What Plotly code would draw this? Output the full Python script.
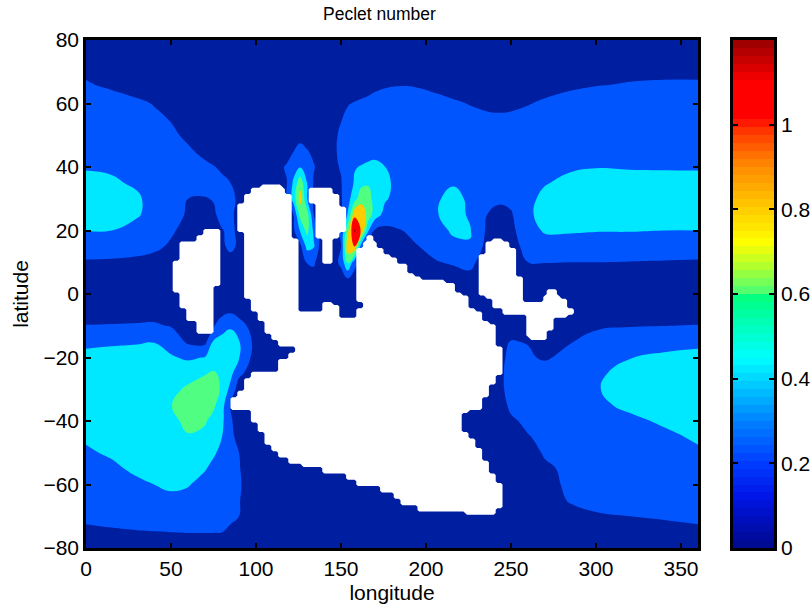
import numpy as np
import plotly.graph_objects as go

lons = [0,15,30,40,50,60, 70,75,80,85,90,100, 110,118,122,126,130,134,138,
        145,150,154,158,162,166,170,176, 184,195,206,216,226,236,243,
        250,260,270,285,300,320,340,360]
lats = [80,72,66,60,50,45,40,35,30,25,20,15,10,5,0,-5,-10,-15,-20,-25,-30,-35,
        -40,-45,-50,-55,-60,-65,-70,-75,-80]

peclet = [
 [.08,.08,.07,.07,.07,.07, .06,.06,.06,.06,.06,.06, .06,.06,.06,.06,.06,.06,.06, .06,.06,.06,.06,.07,.07,.07,.07, .07,.07,.07,.07,.07,.07,.07, .07,.07,.07,.07,.07,.08,.08,.08],
 [.17,.15,.12,.11,.10,.09, .08,.08,.07,.07,.07,.07, .07,.07,.07,.07,.07,.07,.07, .09,.10,.11,.12,.13,.13,.14,.14, .14,.14,.13,.13,.12,.12,.12, .12,.13,.14,.15,.16,.17,.17,.17],
 [.21,.18,.15,.13,.11,.10, .09,.09,.08,.08,.08,.08, .08,.08,.08,.08,.08,.08,.09, .10,.12,.14,.15,.17,.17,.18,.19, .195,.19,.17,.15,.14,.13,.13, .13,.14,.16,.18,.195,.205,.21,.21],
 [.27,.25,.22,.195,.17,.15, .12,.11,.10,.09,.09,.09, .09,.09,.09,.09,.09,.09,.10, .13,.17,.195,.205,.21,.22,.23,.24, .25,.25,.235,.215,.195,.18,.175, .18,.195,.215,.24,.25,.27,.27,.27],
 [.33,.32,.28,.25,.22,.18, .15,.135,.12,.11,.10,.09, .09,.10,.12,.14,.13,.12,.12, .17,.22,.25,.27,.28,.29,.30,.305, .31,.31,.30,.29,.27,.26,.26, .26,.27,.29,.31,.32,.33,.33,.33],
 [.37,.36,.32,.28,.25,.215, .175,.155,.14,.12,.11,.09, .09,.12,.195,.26,.21,.17,.14, .17,.23,.28,.31,.33,.34,.35,.35, .35,.35,.34,.33,.31,.30,.30, .30,.31,.33,.34,.36,.37,.37,.37],
 [.39,.38,.34,.31,.28,.25, .22,.205,.185,.16,.14,.11, .11,.22,.32,.39,.33,.21,.15, .17,.21,.31,.39,.41,.43,.44,.40, .35,.34,.36,.35,.34,.32,.32, .32,.33,.36,.38,.395,.39,.39,.39],
 [.435,.42,.38,.33,.30,.25, .235,.23,.22,.20,.17,.12, .12,.19,.43,.73,.40,.18,.12, .15,.19,.30,.42,.55,.58,.52,.45, .33,.33,.37,.385,.36,.30,.27, .28,.33,.39,.44,.46,.45,.44,.435],
 [.47,.46,.42,.35,.27,.20, .195,.205,.23,.22,.185,.13, .12,.19,.48,.88,.41,.17,.12, .14,.18,.33,.53,.72,.68,.52,.42, .33,.34,.38,.45,.37,.26,.23, .25,.36,.44,.49,.50,.49,.48,.47],
 [.47,.46,.42,.33,.25,.185, .16,.185,.23,.21,.185,.13, .11,.12,.20,.66,.70,.20,.12, .15,.17,.42,.95,.95,.72,.50,.33, .29,.32,.39,.46,.38,.20,.15, .18,.37,.46,.49,.50,.49,.48,.47],
 [.40,.40,.33,.27,.22,.15, .13,.165,.195,.22,.18,.12, .10,.10,.16,.42,.66,.36,.13, .13,.22,.75,1.23,.97,.42,.17,.15, .19,.24,.30,.44,.41,.17,.10, .15,.33,.42,.42,.41,.41,.40,.40],
 [.27,.27,.25,.23,.18,.12, .10,.12,.17,.24,.17,.10, .08,.09,.10,.15,.46,.42,.13, .12,.20,.95,1.0,.28,.11,.09,.09, .12,.195,.26,.33,.39,.13,.07, .12,.27,.32,.31,.30,.29,.28,.27],
 [.185,.18,.17,.15,.12,.10, .09,.09,.11,.13,.10,.08, .07,.07,.07,.09,.21,.23,.09, .10,.25,.62,.28,.10,.08,.07,.07, .08,.12,.19,.22,.25,.09,.06, .08,.20,.205,.20,.20,.195,.19,.185],
 [.12,.11,.10,.09,.08,.07, .07,.07,.07,.07,.06,.06, .06,.06,.06,.07,.11,.12,.07, .07,.11,.20,.11,.06,.06,.06,.06, .06,.07,.09,.12,.15,.07,.05, .06,.10,.11,.11,.11,.11,.11,.12],
 [.08,.08,.08,.08,.07,.06, .06,.06,.06,.06,.06,.05, .05,.05,.05,.05,.05,.05,.05, .05,.06,.07,.06,.05,.05,.05,.05, .05,.05,.05,.06,.07,.05,.05, .05,.06,.07,.07,.07,.08,.08,.08],
 [.12,.12,.13,.13,.11,.08, .08,.10,.13,.15,.11,.06, .05,.05,.05,.05,.05,.05,.05, .05,.05,.05,.05,.05,.05,.05,.05, .05,.05,.05,.05,.05,.05,.05, .06,.06,.07,.09,.11,.12,.12,.12],
 [.205,.21,.215,.22,.19,.14, .15,.18,.30,.38,.28,.10, .05,.05,.05,.05,.05,.05,.05, .05,.05,.05,.05,.05,.05,.05,.05, .05,.05,.05,.05,.05,.05,.06, .12,.10,.09,.13,.175,.19,.198,.205],
 [.36,.375,.385,.395,.32,.17, .15,.42,.48,.47,.41,.13, .06,.05,.05,.05,.05,.05,.05, .05,.05,.05,.05,.05,.05,.05,.05, .05,.05,.05,.05,.05,.06,.09, .21,.19,.13,.19,.26,.31,.34,.36],
 [.45,.46,.47,.46,.42,.37, .41,.48,.53,.53,.41,.10, .06,.05,.05,.05,.05,.05,.05, .05,.05,.05,.05,.05,.05,.05,.05, .05,.05,.05,.05,.05,.07,.12, .27,.23,.17,.28,.33,.395,.43,.45],
 [.50,.51,.52,.52,.52,.53, .59,.62,.57,.46,.24,.09, .06,.05,.05,.05,.05,.05,.05, .05,.05,.05,.05,.05,.05,.05,.05, .05,.05,.05,.05,.05,.07,.14, .29,.30,.32,.34,.37,.46,.49,.50],
 [.52,.53,.54,.55,.55,.63, .68,.68,.57,.34,.10,.07, .05,.05,.05,.05,.05,.05,.05, .05,.05,.05,.05,.05,.05,.05,.05, .05,.05,.05,.05,.05,.07,.14, .28,.31,.33,.36,.385,.49,.51,.52],
 [.53,.55,.56,.57,.595,.68, .70,.64,.47,.20,.09,.07, .05,.05,.05,.05,.05,.05,.05, .05,.05,.05,.05,.05,.05,.05,.05, .05,.05,.05,.05,.05,.06,.11, .24,.28,.30,.33,.37,.43,.48,.53],
 [.47,.50,.52,.53,.54,.66, .62,.53,.44,.23,.10,.07, .05,.05,.05,.05,.05,.05,.05, .05,.05,.05,.05,.05,.05,.05,.05, .05,.05,.05,.05,.05,.06,.08, .17,.24,.27,.30,.33,.37,.42,.47],
 [.42,.45,.47,.50,.52,.58, .55,.47,.40,.25,.14,.07, .05,.05,.05,.05,.05,.05,.05, .05,.05,.05,.05,.05,.05,.05,.05, .05,.05,.05,.05,.05,.05,.07, .11,.19,.24,.27,.29,.33,.37,.42],
 [.38,.42,.47,.50,.52,.53, .48,.42,.36,.29,.20,.08, .05,.05,.05,.05,.05,.05,.05, .05,.05,.05,.05,.05,.05,.05,.05, .05,.05,.05,.05,.05,.05,.06, .07,.13,.22,.25,.28,.31,.35,.38],
 [.33,.37,.43,.47,.50,.46, .41,.36,.31,.26,.21,.08, .05,.05,.05,.05,.05,.05,.05, .05,.05,.05,.05,.05,.05,.05,.05, .05,.05,.05,.05,.05,.05,.05, .06,.08,.17,.24,.27,.30,.32,.33],
 [.30,.33,.37,.40,.43,.41, .35,.32,.29,.26,.22,.08, .05,.05,.05,.05,.05,.05,.05, .05,.05,.05,.05,.05,.05,.05,.05, .05,.05,.05,.05,.05,.05,.05, .06,.07,.12,.25,.25,.27,.29,.30],
 [.27,.30,.33,.35,.36,.35, .31,.29,.27,.25,.21,.07, .05,.05,.05,.05,.05,.05,.05, .05,.05,.05,.05,.05,.05,.05,.05, .05,.05,.05,.05,.05,.05,.05, .05,.06,.09,.22,.24,.25,.26,.27],
 [.23,.25,.27,.28,.28,.27, .26,.25,.24,.23,.20,.07, .05,.05,.05,.05,.05,.05,.05, .05,.05,.05,.05,.05,.05,.05,.05, .05,.05,.05,.05,.05,.05,.05, .05,.05,.07,.12,.185,.20,.215,.23],
 [.17,.18,.19,.195,.20,.205, .205,.205,.20,.17,.13,.06, .05,.05,.05,.05,.05,.05,.05, .05,.05,.05,.05,.05,.05,.05,.05, .05,.05,.05,.05,.05,.05,.05, .05,.05,.06,.08,.11,.13,.15,.17],
 [.08,.08,.09,.09,.10,.10, .10,.10,.10,.08,.07,.05, .05,.05,.05,.05,.05,.05,.05, .05,.05,.05,.05,.05,.05,.05,.05, .05,.05,.05,.05,.05,.05,.05, .05,.05,.05,.05,.06,.07,.08,.08],
]

# land blocks: (lat_hi, lat_lo, lon_lo, lon_hi)
land_blocks = [
 (20,18,69,79),(18,16,64.5,79),(16,10.5,56,79),(10.5,2.8,52,79),(2.8,0.6,52,75),(0.6,-4.7,56,75),(-4.7,-8.8,60,75),(-8.8,-12.2,64.5,75),
 (34.5,33.6,102.6,114),(33.6,31,97.9,116),(31,28.9,93.8,120),(28.9,20,89.7,120),(20,17.6,93.8,120),(17.6,-1.3,93.8,124.3),(-1.3,-5,97.9,124.3),(-5,-6,102,124.3),
 (33,31.5,131.3,145),(31.5,28.6,131.3,149.5),(28.6,27,135.4,149.5),(27,20,135.4,153.6),(20,17.6,135.4,149.5),(17.6,9.7,139.5,145.4),
 (18,16.5,165,169),(16.5,14,164,171),(14,12.6,160,175),(12.6,11.3,160,179),(11.3,9.1,160,183),(9.1,6.9,160,188),(6.9,5.3,160,192),(5.3,4.7,160,196),(4.7,3.1,160,211),(3.1,0.6,160,217),(0.6,-0.3,160,220),(-0.3,-2.9,160,224.5),(-2.9,-4.1,164,224.5),(-4.1,-5,164,228.7),(-5,-6,160,228.7),(-6,-7.8,160,232.8),
 (-2.5,-4,139.5,144.8),(-4,-6,139.5,149.5),(-6,-7.8,102,149.5),
 (-7.8,-8.8,102,200),(-8.8,-12.2,106,200),(-12.2,-14.1,110,200),(-14.1,-16,114,200),(-16,-18.5,122.5,200),(-18.5,-20.7,119,200),(-20.7,-24.5,114,200),(-24.5,-26.3,97.9,200),(-26.3,-30.1,93.2,200),(-30.1,-33,89.1,200),(-33,-36.4,85.6,200),(-36.4,-40,97.9,200),(-40,-43.5,102,200),(-43.5,-47,106,200),(-47,-49.4,110,200),(-49.4,-51.1,114,200),(-51.1,-53,118.8,200),(-53,-54.7,127,200),(-54.7,-56.6,139.5,200),(-56.6,-58.9,152.4,200),(-58.9,-60.5,160,200),(-60.5,-62,173,200),(-62,-64,181,200),(-64,-66,186,200),(-66,-68,194.7,200),
 (-7.8,-8.1,200,232.8),(-8.1,-10,200,237),(-10,-16.9,200,241.6),(-16.9,-25.7,200,245),(-25.7,-28.5,200,241.6),(-28.5,-32.6,200,237),(-32.6,-36.1,200,232.8),(-36.1,-37.5,200,224.5),(-37.5,-43.3,200,220.4),(-43.3,-45.2,200,224.5),(-45.2,-48.6,200,228.7),(-48.6,-52.4,200,232.8),(-52.4,-56.2,200,237),(-56.2,-60,200,241.6),(-60,-67.5,200,245),(-67.5,-68,200,241.6),(-68,-69.6,222.8,240.4),
 (17.9,16,239.2,245),(16,14.4,235.7,249),(14.4,12.2,235.7,253.3),(12.2,5,230.4,253.3),(5,-0.3,230.4,257.4),(-0.3,-1.3,235,257.4),(-1.3,-2.5,239.2,257.4),(-2.5,-4.4,239.2,282.6),(-4.4,-6.6,244.5,286.7),(-6.6,-7.5,259.7,282.6),(-7.5,-11.9,259.7,274.4),(-11.9,-13.5,259.7,270.3),(-13.5,-14.1,262,270.3),
 (1.3,-0.3,272,276),(-0.3,-1.3,268.5,278.5),(-1.3,-2.5,268.5,282.6),
]

band_levels = [0.2, 1.2, 0.2]
band_colors = ["#001EA0","#0055FF","#00E8FF","#50FF82","#FFCC00","#FF0000","#B00000"]
cbar_values = [0,.12,.2,.3,.4,.45,.59,.6,.66,.72,.8,.9,.98,1.02,1.1,1.2]
cbar_colors = ["#000A8C","#0014E6","#003CFF","#0082FF","#00D7FF","#00FFFF","#00FF82","#46FF78",
               "#AAFF32","#FFFF00","#FFCD00","#FF8C00","#FF3C00","#FF0000","#FF0000","#960000"]
cbar_ticks = [0,.2,.4,.6,.8,1]
cbar_labels = ["0","0.2","0.4","0.6","0.8","1"]

FONT = "Liberation Sans, Arial, sans-serif"

n = len(band_colors)
zmax = band_levels[1] + band_levels[2]
scale = []
for i, c in enumerate(band_colors):
    scale += [[i / n, c], [(i + 1) / n, c]]

fig = go.Figure()
fig.add_trace(go.Contour(
    x=lons, y=lats, z=peclet, zmin=0, zmax=zmax, colorscale=scale, showscale=False,
    autocontour=False,
    contours=dict(start=band_levels[0], end=band_levels[1], size=band_levels[2], coloring="fill", showlines=False),
    line=dict(width=0, smoothing=1.3), hoverinfo="skip",
))

mask_lon = np.arange(0, 361, 2.0)
mask_lat = np.arange(-80, 81, 1.0)
mask = np.zeros((mask_lat.size, mask_lon.size))
for hi, lo, w, e in land_blocks:
    mask[np.ix_((mask_lat <= hi) & (mask_lat >= lo), (mask_lon >= w) & (mask_lon <= e))] = 1
fig.add_trace(go.Contour(
    x=mask_lon, y=mask_lat, z=mask, showscale=False, fillcolor="white",
    contours=dict(type="constraint", operation="<=", value=0.5),
    line=dict(width=0, smoothing=0), hoverinfo="skip",
))

vmax = cbar_values[-1]
cs = [[v / vmax, c] for v, c in zip(cbar_values, cbar_colors)]
cb_y = np.linspace(0, vmax, 64, endpoint=False) + vmax / 128
fig.add_trace(go.Heatmap(
    x=[0, 1], y=cb_y, z=[[v, v] for v in cb_y], zmin=0, zmax=vmax, colorscale=cs,
    showscale=False, xaxis="x2", yaxis="y2", hoverinfo="skip",
))

W, H = 812, 610
axis_common = dict(showline=True, linecolor="black", linewidth=2.5, mirror="ticks",
                   ticks="inside", ticklen=5, tickwidth=2, tickcolor="black",
                   showgrid=False, zeroline=False, layer="above traces",
                   tickfont=dict(family=FONT, size=21, color="black"))
fig.update_layout(
    width=W, height=H, margin=dict(l=0, r=0, t=0, b=0, autoexpand=False), paper_bgcolor="white", plot_bgcolor="white",
    showlegend=False, font=dict(family=FONT, color="black"),
    xaxis=dict(domain=[86 / W, 698 / W], range=[0, 360], tickmode="array", tickvals=list(range(0, 351, 50)),
               title=dict(text="longitude", standoff=7, font=dict(family=FONT, size=21, color="black")), **axis_common),
    yaxis=dict(domain=[(H - 548) / H, (H - 40) / H], range=[-80, 80], tickmode="array", tickvals=list(range(-80, 81, 20)),
               title=dict(text="latitude", standoff=10, font=dict(family=FONT, size=21, color="black")), **axis_common),
    xaxis2=dict(domain=[733 / W, 774 / W], range=[0, 1], anchor="y2", showticklabels=False, ticks="",
                showline=True, linecolor="black", linewidth=2.5, mirror=True, showgrid=False, zeroline=False),
    yaxis2=dict(domain=[(H - 548) / H, (H - 40) / H], range=[0, vmax], anchor="x2", side="right",
                tickmode="array", tickvals=cbar_ticks, ticktext=cbar_labels, **axis_common),
    annotations=[dict(text="Peclet number", xref="paper", yref="paper", x=379 / W, y=(H - 14) / H,
                      xanchor="center", yanchor="middle", showarrow=False,
                      font=dict(family=FONT, size=17.5, color="black"))],
)
fig.write_html("out.html", config=dict(displayModeBar=False),
               post_script="document.body.style.margin='0';")
